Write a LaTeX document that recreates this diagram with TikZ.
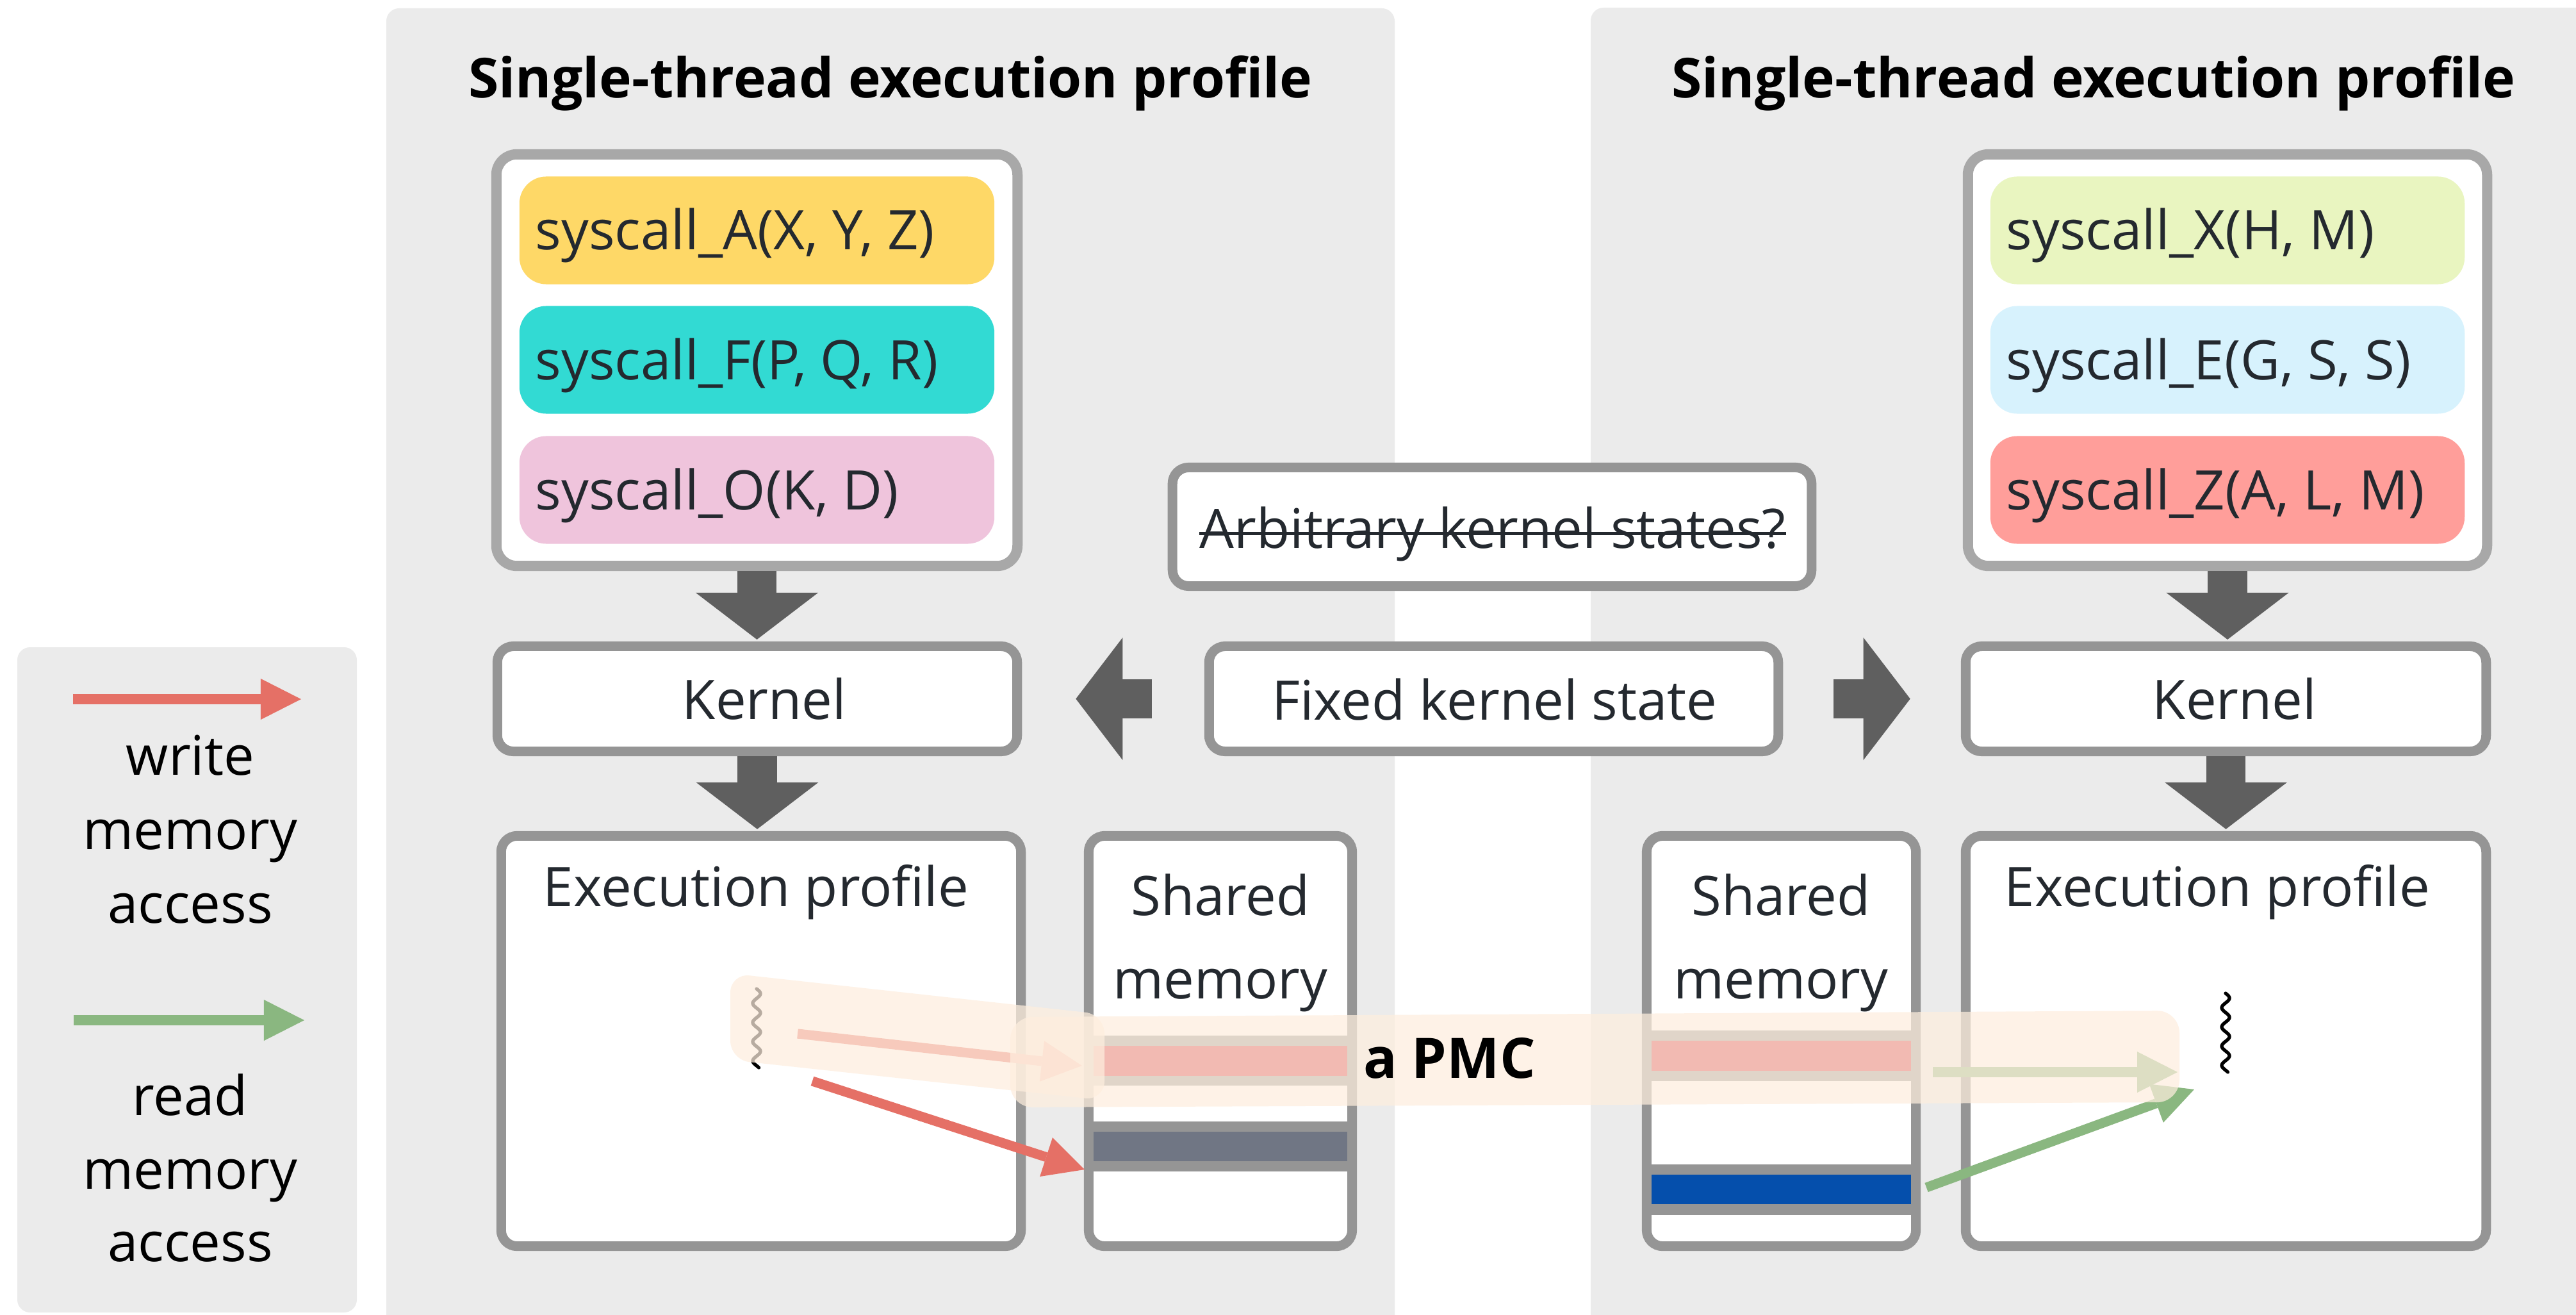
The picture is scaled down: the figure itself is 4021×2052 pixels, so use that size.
\documentclass[tikz,border=0pt]{standalone}
\usepackage{fontspec}
\setmainfont{Open Sans}
\usetikzlibrary{arrows.meta,calc}

\definecolor{panelgray}{RGB}{235,235,235}
\definecolor{boxline}{RGB}{149,149,149}
\definecolor{sysline}{RGB}{168,168,168}
\definecolor{blockgray}{RGB}{95,95,95}
\definecolor{inktext}{RGB}{36,41,47}
\definecolor{sysA}{RGB}{254,216,103}
\definecolor{sysF}{RGB}{50,218,211}
\definecolor{sysO}{RGB}{239,196,220}
\definecolor{sysX}{RGB}{233,245,192}
\definecolor{sysE}{RGB}{215,242,253}
\definecolor{sysZ}{RGB}{255,158,154}
\definecolor{writered}{RGB}{229,112,102}
\definecolor{readgreen}{RGB}{138,183,128}
\definecolor{cellred}{RGB}{211,52,65}
\definecolor{cellslate}{RGB}{112,118,132}
\definecolor{cellblue}{RGB}{5,79,172}
\definecolor{pmcband}{RGB}{254,238,222}

\newcommand{\regtext}{\fontsize{24.2pt}{29pt}\selectfont}
\newcommand{\headtext}{\fontsize{24.4pt}{30pt}\selectfont\bfseries}
\newcommand{\pmctext}{\fontsize{24.8pt}{30pt}\selectfont\bfseries}

\tikzset{
  panel/.style={fill=panelgray, rounded corners=0.2cm},
  box/.style={draw=boxline, line width=4.27pt, fill=white, rounded corners=0.25cm, inner sep=0pt},
  sysbox/.style={draw=sysline, line width=4.55pt, fill=white, rounded corners=0.32cm,
    inner sep=0pt, minimum height=6.42cm},
  callbox/.style={rounded corners=0.42cm, inner sep=0pt, minimum width=7.41cm, minimum height=1.68cm},
  label/.style={font=\regtext, text=inktext, inner sep=0pt, anchor=base},
  legendlabel/.style={font=\regtext, text=black, inner sep=0pt, anchor=base},
  calltext/.style={font=\regtext, text=inktext, inner sep=0pt, anchor=base west},
  headline/.style={font=\headtext, text=black, inner sep=0pt, anchor=base},
  blockarrow/.style={draw=blockgray, line width=17.4pt,
    -{Triangle[length=0.73cm, width=1.91cm, line width=0pt]}},
  memarrow/.style={line width=4.3pt,
    -{Triangle[length=0.63cm, width=0.64cm, line width=0pt]}},
  squiggle/.style={draw=black, line width=1.5pt, line cap=round},
  pmcfill/.style={fill=pmcband, fill opacity=0.72},
}

\begin{document}
\begin{tikzpicture}[x=0.01cm, y=-0.01cm]
\clip (0,0) rectangle (4021,2052);
\fill[white] (0,0) rectangle (4021,2052);

% background panels and legend card
\fill[panel] (603,13) rectangle (2177,2120);
\fill[panel] (2483,12) rectangle (4100,2120);
\fill[panel] (27,1010) rectangle (557,2048);

% panel headings
\node[headline] (headL) at (1390,153) {Single-thread execution profile};
\node[headline] (headR) at (3268,153) {Single-thread execution profile};

% syscall sequences
\node[sysbox, minimum width=8.13cm] (sysL) at (1181.5,562) {};
\node[sysbox, minimum width=8.10cm] (sysR) at (3477,562) {};

\node[callbox, fill=sysA] (cA) at (1181.5,359.5) {};
\node[callbox, fill=sysF] (cF) at (1181.5,561.5) {};
\node[callbox, fill=sysO] (cO) at (1181.5,764.5) {};
\node[calltext] (tA) at (835,390) {syscall\_A(X, Y, Z)};
\node[calltext] (tF) at (835,592) {syscall\_F(P, Q, R)};
\node[calltext] (tO) at (835,795) {syscall\_O(K, D)};

\node[callbox, fill=sysX, minimum width=7.40cm] (cX) at (3477,359.5) {};
\node[callbox, fill=sysE, minimum width=7.40cm] (cE) at (3477,561.5) {};
\node[callbox, fill=sysZ, minimum width=7.40cm] (cZ) at (3477,764.5) {};
\node[calltext] (tX) at (3131,390) {syscall\_X(H, M)};
\node[calltext] (tE) at (3131,592) {syscall\_E(G, S, S)};
\node[calltext] (tZ) at (3131,795) {syscall\_Z(A, L, M)};

% kernel boxes and kernel state
\node[box, minimum width=8.11cm, minimum height=1.64cm] (kerL) at (1182,1090.5) {};
\node[box, minimum width=8.12cm, minimum height=1.64cm] (kerR) at (3474.5,1090.5) {};
\node[box, minimum width=9.97cm, minimum height=1.85cm] (arb) at (2329,822) {};
\node[box, minimum width=8.88cm, minimum height=1.64cm] (fix) at (2331.5,1090.5) {};
\node[label] (kerLt) at (1193,1122) {Kernel};
\node[label] (kerRt) at (3488,1122) {Kernel};
\node[label] (fixt) at (2333,1123) {Fixed kernel state};
\node[label] (arbt) at (2330,855) {Arbitrary kernel states?};
\draw[inktext, line width=1.42pt] ($(arbt.base west)+(0,-23)$) -- ($(arbt.base east)+(0,-23)$);

% execution profiles and shared memory
\node[box, minimum width=8.11cm, minimum height=6.40cm] (exeL) at (1188,1624.5) {};
\node[box, minimum width=4.11cm, minimum height=6.40cm] (shmL) at (1905,1624.5) {};
\node[box, minimum width=4.20cm, minimum height=6.40cm] (shmR) at (2780.5,1624.5) {};
\node[box, minimum width=8.12cm, minimum height=6.40cm] (exeR) at (3474.5,1624.5) {};
\node[label] (exeLt) at (1180,1414) {Execution profile};
\node[label] (exeRt) at (3461,1414) {Execution profile};
\node[label] (shmLa) at (1905,1428) {Shared};
\node[label] (shmLb) at (1905,1558) {memory};
\node[label] (shmRa) at (2780,1428) {Shared};
\node[label] (shmRb) at (2780,1558) {memory};

% memory cells
\fill[boxline] (1692,1616) rectangle (2118,1694);
\fill[cellred] (1707,1632) rectangle (2103,1679);
\fill[boxline] (1692,1750) rectangle (2118,1828);
\fill[cellslate] (1707,1766) rectangle (2103,1812);
\fill[boxline] (2563,1608) rectangle (2998,1687);
\fill[cellred] (2578,1624) rectangle (2983,1671);
\fill[boxline] (2563,1817) rectangle (2998,1896);
\fill[cellblue] (2578,1833) rectangle (2983,1879);

% flow between stages
\draw[blockarrow, shorten >=0.03cm] (sysL.south) -- (sysL.south |- kerL.north);
\draw[blockarrow, shorten >=0.03cm] (kerL.south) -- (kerL.south |- exeL.north);
\draw[blockarrow, shorten >=0.03cm] (sysR.south) -- (sysR.south |- kerR.north);
\draw[blockarrow, shorten >=0.03cm] (kerR.south) -- (kerR.south |- exeR.north);
\draw[blockarrow, shorten <=0.82cm, shorten >=0.84cm] (fix.west) -- (kerL.east);
\draw[blockarrow, shorten <=0.79cm, shorten >=0.79cm] (fix.east) -- (kerR.west);

% threads
\draw[squiggle] plot[domain=0:123, samples=120] ({1181+6*sin(12*\x)}, {1543+\x});
\draw[squiggle] plot[domain=0:123, samples=120] ({3474+6*sin(12*\x)}, {1550+\x});

% memory accesses
\coordinate (wLs) at (1268,1687);
\coordinate (wLe) at (1693,1825);
\coordinate (wPs) at (1245,1613);
\coordinate (wPe) at (1689,1663);
\coordinate (rPs) at (3017,1673);
\coordinate (rPe) at (3399,1673);
\coordinate (rRs) at (3007,1853);
\coordinate (rRe) at (3425,1700);
\draw[memarrow, writered] (wLs) -- (wLe);
\draw[memarrow, writered] (wPs) -- (wPe);
\draw[memarrow, readgreen] (rPs) -- (rPe);
\draw[memarrow, readgreen] (rRs) -- (rRe);

% the PMC band
\fill[pmcfill, rounded corners=0.3cm] (1140,1519) -- (1724,1583) -- (1724,1717) -- (1140,1654) -- cycle;
\fill[pmcfill, rounded corners=0.35cm] (1577,1587) -- (3402,1577) -- (3402,1720) -- (1577,1728) -- cycle;
\node[font=\pmctext, text=black, inner sep=0pt, anchor=base west] (pmc) at (2128,1682) {a PMC};

% legend
\coordinate (lgWs) at (114,1091);
\coordinate (lgWe) at (470,1091);
\coordinate (lgRs) at (115,1592);
\coordinate (lgRe) at (475,1592);
\draw[memarrow, writered] (lgWs) -- (lgWe);
\draw[memarrow, readgreen] (lgRs) -- (lgRe);
\node[legendlabel] (lg1) at (297,1209) {write};
\node[legendlabel] (lg2) at (297,1325) {memory};
\node[legendlabel] (lg3) at (297,1440) {access};
\node[legendlabel] (lg4) at (297,1740) {read};
\node[legendlabel] (lg5) at (297,1855) {memory};
\node[legendlabel] (lg6) at (297,1968) {access};
\end{tikzpicture}
\end{document}
